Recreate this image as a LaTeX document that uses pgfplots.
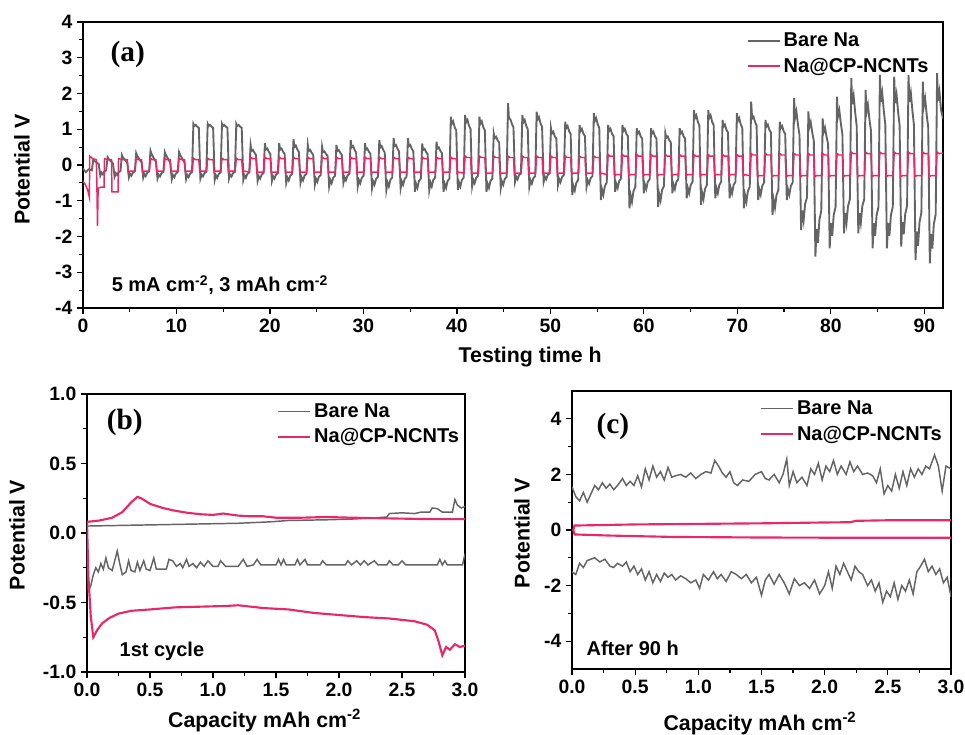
\documentclass[border=0pt]{standalone}
\usepackage{fontspec}
\setmainfont{Liberation Sans}
\newfontfamily\panelfont{Liberation Serif}
\usepackage{pgfplots}
\pgfplotsset{compat=1.18}

\definecolor{bare}{RGB}{100,100,100}
\definecolor{cnt}{RGB}{233,40,108}

\pgfplotsset{
  panel/.style={
    scale only axis,
    axis line style={line width=1.1pt},
    every tick/.style={black, line width=0.9pt},
    tick align=outside, tick pos=left,
    major tick length=4.5pt, minor tick length=2.7pt,
    tick label style={font=\fontsize{14.5}{16}\selectfont\bfseries},
    label style={font=\fontsize{16}{18}\selectfont\bfseries},
    /pgf/number format/assume math mode=true,
    legend style={draw=none, fill=none, inner sep=0pt, anchor=north west,
      font=\fontsize{15}{17}\selectfont\bfseries, row sep=3pt},
    legend cell align=left,
    legend image code/.code={\draw[##1] (0pt,0pt) -- (24pt,0pt);},
  },
}

\begin{document}
\begin{tikzpicture}
\useasboundingbox (0,0) rectangle (723.75pt,551.25pt);

% (a) galvanostatic cycling
\begin{axis}[panel,
    at={(62.25pt,320.25pt)}, anchor=south west,
    width=645pt, height=214.5pt,
    xmin=0, xmax=92, ymin=-4, ymax=4,
    xtick={0,10,...,90}, ytick={-4,-3,...,4},
    minor x tick num=1, minor y tick num=1,
    xlabel={Testing time h}, ylabel={Potential V},
    xlabel style={at={(axis description cs:0.52,-0.189)}, anchor=base},
    ylabel style={at={(axis description cs:-0.071,0.483)}, anchor=center},
    legend style={at={(axis description cs:0.772,0.972)}},
]
\addplot[bare, line width=1.4pt] coordinates {
(0,-0.10)(0.3,-0.20)(0.6,-0.12)(0.95,-0.15)
(1.10,0.15)(1.20,0.12)(1.35,0.09)(1.52,0.06)(1.68,0.03)(1.85,-0.30)(1.98,-0.21)(2.12,-0.26)(2.28,-0.18)(2.48,-0.15)
(2.63,0.22)(2.73,0.18)(2.88,0.13)(3.05,0.09)(3.21,0.04)(3.38,-0.33)(3.51,-0.23)(3.65,-0.28)(3.81,-0.20)(4.01,-0.17)
(4.16,0.28)(4.26,0.22)(4.41,0.17)(4.58,0.11)(4.74,0.06)(4.91,-0.35)(5.04,-0.25)(5.18,-0.30)(5.34,-0.21)(5.54,-0.18)
(5.69,0.33)(5.79,0.26)(5.94,0.20)(6.11,0.13)(6.27,0.07)(6.44,-0.36)(6.57,-0.25)(6.71,-0.31)(6.87,-0.22)(7.07,-0.18)
(7.22,0.40)(7.32,0.32)(7.47,0.24)(7.64,0.16)(7.80,0.08)(7.97,-0.38)(8.10,-0.27)(8.24,-0.32)(8.40,-0.23)(8.60,-0.19)
(8.75,0.36)(8.85,0.29)(9.00,0.22)(9.17,0.14)(9.33,0.07)(9.50,-0.40)(9.63,-0.28)(9.77,-0.34)(9.93,-0.24)(10.13,-0.20)
(10.28,0.36)(10.38,0.29)(10.53,0.22)(10.70,0.14)(10.86,0.07)(11.03,-0.40)(11.16,-0.28)(11.30,-0.34)(11.46,-0.24)(11.66,-0.20)
(11.81,1.15)(11.91,1.09)(12.06,1.12)(12.23,1.07)(12.39,1.04)(12.56,-0.38)(12.69,-0.27)(12.83,-0.32)(12.99,-0.23)(13.19,-0.19)
(13.34,1.15)(13.44,1.09)(13.59,1.12)(13.76,1.07)(13.92,1.04)(14.09,-0.42)(14.22,-0.29)(14.36,-0.36)(14.52,-0.25)(14.72,-0.21)
(14.87,1.15)(14.97,1.09)(15.12,1.12)(15.29,1.07)(15.45,1.04)(15.62,-0.38)(15.75,-0.27)(15.89,-0.32)(16.05,-0.23)(16.25,-0.19)
(16.40,1.15)(16.50,1.09)(16.65,1.12)(16.82,1.07)(16.98,1.04)(17.15,-0.42)(17.28,-0.29)(17.42,-0.36)(17.58,-0.25)(17.78,-0.21)
(17.93,0.56)(18.03,0.39)(18.18,0.42)(18.35,0.34)(18.51,0.28)(18.68,-0.45)(18.81,-0.32)(18.95,-0.38)(19.11,-0.27)(19.31,-0.23)
(19.46,0.61)(19.56,0.43)(19.71,0.46)(19.88,0.37)(20.04,0.31)(20.21,-0.45)(20.34,-0.32)(20.48,-0.38)(20.64,-0.27)(20.84,-0.23)
(20.99,0.61)(21.09,0.43)(21.24,0.46)(21.41,0.37)(21.57,0.31)(21.74,-0.50)(21.87,-0.35)(22.01,-0.43)(22.17,-0.30)(22.37,-0.25)
(22.52,0.72)(22.62,0.50)(22.77,0.54)(22.94,0.43)(23.10,0.36)(23.27,-0.50)(23.40,-0.35)(23.54,-0.43)(23.70,-0.30)(23.90,-0.25)
(24.05,0.56)(24.15,0.39)(24.30,0.42)(24.47,0.34)(24.63,0.28)(24.80,-0.55)(24.93,-0.39)(25.07,-0.47)(25.23,-0.33)(25.43,-0.28)
(25.58,0.51)(25.68,0.36)(25.83,0.38)(26.00,0.31)(26.16,0.26)(26.33,-0.60)(26.46,-0.42)(26.60,-0.51)(26.76,-0.36)(26.96,-0.30)
(27.11,0.56)(27.21,0.39)(27.36,0.42)(27.53,0.34)(27.69,0.28)(27.86,-0.50)(27.99,-0.35)(28.13,-0.43)(28.29,-0.30)(28.49,-0.25)
(28.64,0.70)(28.74,0.49)(28.89,0.53)(29.06,0.42)(29.22,0.35)(29.39,-0.60)(29.52,-0.42)(29.66,-0.51)(29.82,-0.36)(30.02,-0.30)
(30.17,0.61)(30.27,0.43)(30.42,0.46)(30.59,0.37)(30.75,0.31)(30.92,-0.65)(31.05,-0.46)(31.19,-0.55)(31.35,-0.39)(31.55,-0.33)
(31.70,0.70)(31.80,0.49)(31.95,0.53)(32.12,0.42)(32.28,0.35)(32.45,-0.70)(32.58,-0.49)(32.72,-0.60)(32.88,-0.42)(33.08,-0.35)
(33.23,0.75)(33.33,0.53)(33.48,0.56)(33.65,0.45)(33.81,0.38)(33.98,-0.65)(34.11,-0.46)(34.25,-0.55)(34.41,-0.39)(34.61,-0.33)
(34.76,0.75)(34.86,0.53)(35.01,0.56)(35.18,0.45)(35.34,0.38)(35.51,-0.75)(35.64,-0.53)(35.78,-0.64)(35.94,-0.45)(36.14,-0.38)
(36.29,0.60)(36.39,0.42)(36.54,0.45)(36.71,0.36)(36.87,0.30)(37.04,-0.70)(37.17,-0.49)(37.31,-0.60)(37.47,-0.42)(37.67,-0.35)
(37.82,0.65)(37.92,0.46)(38.07,0.49)(38.24,0.39)(38.40,0.33)(38.57,-0.75)(38.70,-0.53)(38.84,-0.64)(39.00,-0.45)(39.20,-0.38)
(39.35,1.35)(39.45,1.15)(39.60,1.22)(39.77,1.05)(39.93,0.97)(40.10,-0.70)(40.23,-0.49)(40.37,-0.60)(40.53,-0.42)(40.73,-0.35)
(40.88,1.40)(40.98,1.19)(41.13,1.26)(41.30,1.09)(41.46,1.01)(41.63,-0.60)(41.76,-0.42)(41.90,-0.51)(42.06,-0.36)(42.26,-0.30)
(42.41,1.35)(42.51,1.15)(42.66,1.22)(42.83,1.05)(42.99,0.97)(43.16,-0.75)(43.29,-0.53)(43.43,-0.64)(43.59,-0.45)(43.79,-0.38)
(43.94,0.88)(44.04,0.75)(44.19,0.79)(44.36,0.69)(44.52,0.63)(44.69,-0.65)(44.82,-0.46)(44.96,-0.55)(45.12,-0.39)(45.32,-0.33)
(45.47,1.73)(45.57,1.30)(45.72,1.28)(45.89,1.15)(46.05,1.05)(46.22,-0.47)(46.35,-0.33)(46.49,-0.40)(46.65,-0.28)(46.85,-0.24)
(47.00,1.40)(47.10,1.19)(47.25,1.26)(47.42,1.09)(47.58,1.01)(47.75,-0.61)(47.88,-0.43)(48.02,-0.52)(48.18,-0.37)(48.38,-0.31)
(48.53,1.49)(48.63,1.27)(48.78,1.34)(48.95,1.16)(49.11,1.07)(49.28,-0.47)(49.41,-0.33)(49.55,-0.40)(49.71,-0.28)(49.91,-0.24)
(50.06,1.03)(50.16,0.88)(50.31,0.93)(50.48,0.80)(50.64,0.74)(50.81,-0.56)(50.94,-0.39)(51.08,-0.48)(51.24,-0.34)(51.44,-0.28)
(51.59,1.21)(51.69,1.03)(51.84,1.09)(52.01,0.94)(52.17,0.87)(52.34,-0.84)(52.47,-0.59)(52.61,-0.71)(52.77,-0.50)(52.97,-0.42)
(53.12,1.12)(53.22,0.95)(53.37,1.01)(53.54,0.87)(53.70,0.81)(53.87,-0.61)(54.00,-0.43)(54.14,-0.52)(54.30,-0.37)(54.50,-0.31)
(54.65,1.45)(54.75,1.23)(54.90,1.31)(55.07,1.13)(55.23,1.04)(55.40,-0.98)(55.53,-0.69)(55.67,-0.83)(55.83,-0.59)(56.03,-0.49)
(56.18,1.12)(56.28,0.95)(56.43,1.01)(56.60,0.87)(56.76,0.81)(56.93,-0.75)(57.06,-0.53)(57.20,-0.64)(57.36,-0.45)(57.56,-0.38)
(57.71,1.12)(57.81,0.95)(57.96,1.01)(58.13,0.87)(58.29,0.81)(58.46,-1.21)(58.59,-0.85)(58.73,-1.03)(58.89,-0.73)(59.09,-0.61)
(59.24,1.03)(59.34,0.88)(59.49,0.93)(59.66,0.80)(59.82,0.74)(59.99,-0.79)(60.12,-0.55)(60.26,-0.67)(60.42,-0.47)(60.62,-0.40)
(60.77,1.03)(60.87,0.88)(61.02,0.93)(61.19,0.80)(61.35,0.74)(61.52,-1.17)(61.65,-0.82)(61.79,-0.99)(61.95,-0.70)(62.15,-0.59)
(62.30,0.89)(62.40,0.76)(62.55,0.80)(62.72,0.69)(62.88,0.64)(63.05,-0.79)(63.18,-0.55)(63.32,-0.67)(63.48,-0.47)(63.68,-0.40)
(63.83,1.03)(63.93,0.88)(64.08,0.93)(64.25,0.80)(64.41,0.74)(64.58,-0.93)(64.71,-0.65)(64.85,-0.79)(65.01,-0.56)(65.21,-0.47)
(65.36,1.54)(65.46,1.31)(65.61,1.39)(65.78,1.20)(65.94,1.11)(66.11,-1.12)(66.24,-0.78)(66.38,-0.95)(66.54,-0.67)(66.74,-0.56)
(66.89,1.54)(66.99,1.31)(67.14,1.39)(67.31,1.20)(67.47,1.11)(67.64,-0.93)(67.77,-0.65)(67.91,-0.79)(68.07,-0.56)(68.27,-0.47)
(68.42,1.26)(68.52,1.07)(68.67,1.13)(68.84,0.98)(69.00,0.91)(69.17,-0.93)(69.30,-0.65)(69.44,-0.79)(69.60,-0.56)(69.80,-0.47)
(69.95,1.45)(70.05,1.23)(70.20,1.31)(70.37,1.13)(70.53,1.04)(70.70,-1.21)(70.83,-0.85)(70.97,-1.03)(71.13,-0.73)(71.33,-0.61)
(71.48,1.77)(71.58,1.30)(71.73,1.35)(71.90,1.20)(72.06,1.10)(72.23,-0.98)(72.36,-0.69)(72.50,-0.83)(72.66,-0.59)(72.86,-0.49)
(73.01,1.26)(73.11,1.07)(73.26,1.13)(73.43,0.98)(73.59,0.91)(73.76,-1.40)(73.89,-0.98)(74.03,-1.19)(74.19,-0.84)(74.39,-0.70)
(74.54,1.21)(74.64,1.03)(74.79,1.09)(74.96,0.94)(75.12,0.87)(75.29,-0.98)(75.42,-0.69)(75.56,-0.83)(75.72,-0.59)(75.92,-0.49)
(76.07,1.87)(76.17,1.31)(76.32,1.50)(76.49,1.12)(76.65,0.84)(76.82,-1.82)(76.95,-1.27)(77.09,-1.55)(77.25,-1.09)(77.45,-0.91)
(77.60,1.50)(77.70,1.05)(77.85,1.20)(78.02,0.90)(78.18,0.68)(78.35,-2.56)(78.48,-1.79)(78.62,-2.18)(78.78,-1.54)(78.98,-1.28)
(79.13,1.30)(79.23,0.91)(79.38,1.04)(79.55,0.78)(79.71,0.59)(79.88,-2.33)(80.01,-1.63)(80.15,-1.98)(80.31,-1.40)(80.51,-1.17)
(80.66,1.91)(80.76,1.34)(80.91,1.53)(81.08,1.15)(81.24,0.86)(81.41,-1.91)(81.54,-1.34)(81.68,-1.62)(81.84,-1.15)(82.04,-0.96)
(82.19,2.43)(82.29,1.70)(82.44,1.94)(82.61,1.46)(82.77,1.09)(82.94,-1.91)(83.07,-1.34)(83.21,-1.62)(83.37,-1.15)(83.57,-0.96)
(83.72,2.10)(83.82,1.47)(83.97,1.68)(84.14,1.26)(84.30,0.95)(84.47,-2.33)(84.60,-1.63)(84.74,-1.98)(84.90,-1.40)(85.10,-1.17)
(85.25,2.52)(85.35,1.76)(85.50,2.02)(85.67,1.51)(85.83,1.13)(86.00,-2.33)(86.13,-1.63)(86.27,-1.98)(86.43,-1.40)(86.63,-1.17)
(86.78,2.47)(86.88,1.73)(87.03,1.98)(87.20,1.48)(87.36,1.11)(87.53,-2.28)(87.66,-1.60)(87.80,-1.94)(87.96,-1.37)(88.16,-1.14)
(88.31,2.52)(88.41,1.76)(88.56,2.02)(88.73,1.51)(88.89,1.13)(89.06,-2.66)(89.19,-1.86)(89.33,-2.26)(89.49,-1.60)(89.69,-1.33)
(89.84,2.33)(89.94,1.63)(90.09,1.86)(90.26,1.40)(90.42,1.05)(90.59,-2.75)(90.72,-1.93)(90.86,-2.34)(91.02,-1.65)(91.22,-1.38)
(91.37,2.57)(91.47,1.80)(91.62,2.06)(91.79,1.54)(92.00,1.30)
};
\addlegendentry{Bare Na}
\addplot[cnt, line width=1.1pt] coordinates {
(0,-0.45)(0.25,-0.55)(0.5,-0.70)(0.68,-0.90)(0.72,0.25)(0.85,0.22)(1.0,0.18)(1.42,0.15)(1.47,-0.30)(1.55,-1.70)(1.62,-0.65)(1.9,-0.62)(2.25,-0.62)(2.3,0.18)(2.6,0.15)(3.05,0.15)(3.1,-0.75)(3.75,-0.75)(3.8,0.18)(4.16,0.15)
(4.74,0.15)(4.84,-0.20)(5.01,-0.17)
(5.57,-0.17)(5.69,0.19)(5.89,0.15)(6.27,0.15)(6.37,-0.20)(6.54,-0.17)
(7.10,-0.17)(7.22,0.19)(7.42,0.15)(7.80,0.15)(7.90,-0.20)(8.07,-0.17)
(8.63,-0.17)(8.75,0.19)(8.95,0.15)(9.33,0.15)(9.43,-0.20)(9.60,-0.17)
(10.16,-0.17)(10.28,0.19)(10.48,0.15)(10.86,0.15)(10.96,-0.20)(11.13,-0.17)
(11.69,-0.17)(11.81,0.19)(12.01,0.15)(12.39,0.15)(12.49,-0.20)(12.66,-0.17)
(13.22,-0.17)(13.34,0.19)(13.54,0.15)(13.92,0.15)(14.02,-0.20)(14.19,-0.17)
(14.75,-0.17)(14.87,0.19)(15.07,0.15)(15.45,0.15)(15.55,-0.20)(15.72,-0.17)
(16.28,-0.17)(16.40,0.19)(16.60,0.15)(16.98,0.15)(17.08,-0.20)(17.25,-0.17)
(17.81,-0.20)(17.93,0.22)(18.13,0.18)(18.51,0.18)(18.61,-0.23)(18.78,-0.20)
(19.34,-0.20)(19.46,0.22)(19.66,0.18)(20.04,0.18)(20.14,-0.23)(20.31,-0.20)
(20.87,-0.20)(20.99,0.22)(21.19,0.18)(21.57,0.18)(21.67,-0.23)(21.84,-0.20)
(22.40,-0.20)(22.52,0.22)(22.72,0.18)(23.10,0.18)(23.20,-0.23)(23.37,-0.20)
(23.93,-0.20)(24.05,0.22)(24.25,0.18)(24.63,0.18)(24.73,-0.23)(24.90,-0.20)
(25.46,-0.20)(25.58,0.22)(25.78,0.18)(26.16,0.18)(26.26,-0.23)(26.43,-0.20)
(26.99,-0.20)(27.11,0.22)(27.31,0.18)(27.69,0.18)(27.79,-0.23)(27.96,-0.20)
(28.52,-0.20)(28.64,0.22)(28.84,0.18)(29.22,0.18)(29.32,-0.23)(29.49,-0.20)
(30.05,-0.20)(30.17,0.22)(30.37,0.18)(30.75,0.18)(30.85,-0.23)(31.02,-0.20)
(31.58,-0.20)(31.70,0.22)(31.90,0.18)(32.28,0.18)(32.38,-0.23)(32.55,-0.20)
(33.11,-0.20)(33.23,0.22)(33.43,0.18)(33.81,0.18)(33.91,-0.23)(34.08,-0.20)
(34.64,-0.20)(34.76,0.22)(34.96,0.18)(35.34,0.18)(35.44,-0.23)(35.61,-0.20)
(36.17,-0.20)(36.29,0.22)(36.49,0.18)(36.87,0.18)(36.97,-0.23)(37.14,-0.20)
(37.70,-0.20)(37.82,0.22)(38.02,0.18)(38.40,0.18)(38.50,-0.23)(38.67,-0.20)
(39.23,-0.20)(39.35,0.22)(39.55,0.18)(39.93,0.18)(40.03,-0.23)(40.20,-0.20)
(40.76,-0.23)(40.88,0.25)(41.08,0.21)(41.46,0.21)(41.56,-0.26)(41.73,-0.23)
(42.29,-0.23)(42.41,0.25)(42.61,0.21)(42.99,0.21)(43.09,-0.26)(43.26,-0.23)
(43.82,-0.23)(43.94,0.25)(44.14,0.21)(44.52,0.21)(44.62,-0.26)(44.79,-0.23)
(45.35,-0.23)(45.47,0.25)(45.67,0.21)(46.05,0.21)(46.15,-0.26)(46.32,-0.23)
(46.88,-0.23)(47.00,0.25)(47.20,0.21)(47.58,0.21)(47.68,-0.26)(47.85,-0.23)
(48.41,-0.23)(48.53,0.25)(48.73,0.21)(49.11,0.21)(49.21,-0.26)(49.38,-0.23)
(49.94,-0.23)(50.06,0.25)(50.26,0.21)(50.64,0.21)(50.74,-0.26)(50.91,-0.23)
(51.47,-0.23)(51.59,0.25)(51.79,0.21)(52.17,0.21)(52.27,-0.26)(52.44,-0.23)
(53.00,-0.23)(53.12,0.25)(53.32,0.21)(53.70,0.21)(53.80,-0.26)(53.97,-0.23)
(54.53,-0.23)(54.65,0.25)(54.85,0.21)(55.23,0.21)(55.33,-0.26)(55.50,-0.23)
(56.06,-0.27)(56.18,0.29)(56.38,0.25)(56.76,0.25)(56.86,-0.30)(57.03,-0.27)
(57.59,-0.27)(57.71,0.29)(57.91,0.25)(58.29,0.25)(58.39,-0.30)(58.56,-0.27)
(59.12,-0.27)(59.24,0.29)(59.44,0.25)(59.82,0.25)(59.92,-0.30)(60.09,-0.27)
(60.65,-0.27)(60.77,0.29)(60.97,0.25)(61.35,0.25)(61.45,-0.30)(61.62,-0.27)
(62.18,-0.27)(62.30,0.29)(62.50,0.25)(62.88,0.25)(62.98,-0.30)(63.15,-0.27)
(63.71,-0.27)(63.83,0.29)(64.03,0.25)(64.41,0.25)(64.51,-0.30)(64.68,-0.27)
(65.24,-0.27)(65.36,0.29)(65.56,0.25)(65.94,0.25)(66.04,-0.30)(66.21,-0.27)
(66.77,-0.27)(66.89,0.29)(67.09,0.25)(67.47,0.25)(67.57,-0.30)(67.74,-0.27)
(68.30,-0.27)(68.42,0.29)(68.62,0.25)(69.00,0.25)(69.10,-0.30)(69.27,-0.27)
(69.83,-0.27)(69.95,0.29)(70.15,0.25)(70.53,0.25)(70.63,-0.30)(70.80,-0.27)
(71.36,-0.30)(71.48,0.32)(71.68,0.28)(72.06,0.28)(72.16,-0.33)(72.33,-0.30)
(72.89,-0.30)(73.01,0.32)(73.21,0.28)(73.59,0.28)(73.69,-0.33)(73.86,-0.30)
(74.42,-0.30)(74.54,0.32)(74.74,0.28)(75.12,0.28)(75.22,-0.33)(75.39,-0.30)
(75.95,-0.30)(76.07,0.32)(76.27,0.28)(76.65,0.28)(76.75,-0.33)(76.92,-0.30)
(77.48,-0.30)(77.60,0.32)(77.80,0.28)(78.18,0.28)(78.28,-0.33)(78.45,-0.30)
(79.01,-0.30)(79.13,0.32)(79.33,0.28)(79.71,0.28)(79.81,-0.33)(79.98,-0.30)
(80.54,-0.30)(80.66,0.32)(80.86,0.28)(81.24,0.28)(81.34,-0.33)(81.51,-0.30)
(82.07,-0.30)(82.19,0.36)(82.39,0.32)(82.77,0.32)(82.87,-0.33)(83.04,-0.30)
(83.60,-0.30)(83.72,0.36)(83.92,0.32)(84.30,0.32)(84.40,-0.33)(84.57,-0.30)
(85.13,-0.30)(85.25,0.36)(85.45,0.32)(85.83,0.32)(85.93,-0.33)(86.10,-0.30)
(86.66,-0.30)(86.78,0.36)(86.98,0.32)(87.36,0.32)(87.46,-0.33)(87.63,-0.30)
(88.19,-0.30)(88.31,0.36)(88.51,0.32)(88.89,0.32)(88.99,-0.33)(89.16,-0.30)
(89.72,-0.30)(89.84,0.36)(90.04,0.32)(90.42,0.32)(90.52,-0.33)(90.69,-0.30)
(91.25,-0.30)(91.37,0.36)(91.57,0.32)(92.00,0.33)
};
\addlegendentry{Na@CP-NCNTs}
\node[font=\panelfont\bfseries\fontsize{22}{24}\selectfont] at (axis description cs:0.052,0.885) {(a)};
\node[anchor=base west, font=\fontsize{15}{17}\selectfont\bfseries] at (axis description cs:0.028,0.056) {5 mA cm\textsuperscript{-2}, 3 mAh cm\textsuperscript{-2}};
\end{axis}

% (b) first cycle
\begin{axis}[panel,
    at={(65.25pt,47.25pt)}, anchor=south west,
    width=283.5pt, height=208.5pt,
    xmin=0, xmax=3, ymin=-1, ymax=1,
    xtick={0,0.5,...,3}, ytick={-1,-0.5,0,0.5,1},
    minor x tick num=1, minor y tick num=1,
    xticklabel style={/pgf/number format/.cd, fixed, fixed zerofill, precision=1},
    yticklabel style={/pgf/number format/.cd, fixed, fixed zerofill, precision=1},
    xlabel={Capacity mAh cm\textsuperscript{-2}}, ylabel={Potential V},
    xlabel style={at={(axis description cs:0.47,-0.201)}, anchor=base},
    ylabel style={at={(axis description cs:-0.185,0.493)}, anchor=center},
    legend style={at={(axis description cs:0.503,0.976)}},
]
\addplot[bare, line width=1.1pt] coordinates {
(0,0.05)(0.3,0.055)(0.6,0.06)(0.9,0.065)(1.2,0.07)(1.45,0.08)(1.6,0.09)(1.9,0.095)(2.1,0.10)(2.3,0.11)(2.38,0.115)(2.40,0.14)(2.5,0.145)(2.6,0.14)(2.65,0.15)(2.72,0.15)(2.74,0.18)(2.78,0.175)(2.82,0.15)(2.9,0.15)(2.92,0.24)(2.94,0.20)(2.97,0.18)(3.0,0.19)
};
\addlegendentry{Bare Na}
\addplot[cnt, line width=1.6pt] coordinates {
(0,0.08)(0.05,0.085)(0.1,0.09)(0.2,0.11)(0.28,0.15)(0.35,0.22)(0.40,0.26)(0.43,0.25)(0.5,0.21)(0.6,0.18)(0.7,0.16)(0.8,0.145)(0.9,0.135)(1.0,0.13)(1.08,0.14)(1.12,0.135)(1.2,0.125)(1.3,0.12)(1.4,0.12)(1.5,0.11)(1.7,0.11)(1.9,0.115)(2.1,0.11)(2.4,0.105)(2.7,0.10)(3.0,0.10)
};
\addlegendentry{Na@CP-NCNTs}
\addplot[bare, line width=1.1pt, forget plot] coordinates {
(0,0.03)(0.01,-0.42)(0.03,-0.38)(0.05,-0.30)(0.07,-0.25)(0.09,-0.28)(0.11,-0.22)(0.13,-0.26)(0.15,-0.18)(0.17,-0.25)(0.20,-0.27)(0.22,-0.20)(0.24,-0.13)(0.26,-0.22)(0.28,-0.30)(0.31,-0.28)(0.33,-0.20)(0.35,-0.27)(0.38,-0.28)(0.40,-0.21)(0.42,-0.27)(0.45,-0.20)(0.47,-0.26)(0.50,-0.27)(0.53,-0.18)(0.55,-0.26)(0.60,-0.26)(0.63,-0.26)(0.65,-0.19)(0.68,-0.20)(0.71,-0.24)(0.74,-0.22)(0.76,-0.25)(0.79,-0.19)(0.81,-0.24)(0.84,-0.22)(0.87,-0.25)(0.90,-0.21)(0.93,-0.24)(0.96,-0.20)(1.00,-0.24)(1.04,-0.24)(1.06,-0.20)(1.10,-0.24)(1.20,-0.24)(1.24,-0.19)(1.27,-0.24)(1.32,-0.23)(1.35,-0.19)(1.38,-0.23)(1.50,-0.23)(1.52,-0.19)(1.54,-0.23)(1.56,-0.19)(1.58,-0.23)(1.65,-0.23)(1.67,-0.19)(1.69,-0.23)(1.73,-0.19)(1.75,-0.23)(1.85,-0.23)(1.87,-0.20)(1.90,-0.23)(2.05,-0.23)(2.07,-0.20)(2.10,-0.23)(2.14,-0.20)(2.17,-0.23)(2.20,-0.20)(2.23,-0.23)(2.28,-0.20)(2.31,-0.23)(2.38,-0.23)(2.40,-0.20)(2.43,-0.23)(2.47,-0.23)(2.50,-0.20)(2.53,-0.23)(2.78,-0.23)(2.80,-0.19)(2.82,-0.23)(2.84,-0.20)(2.86,-0.23)(2.98,-0.23)(3.0,-0.15)
};
\addplot[cnt, line width=1.6pt, forget plot] coordinates {
(0,0.08)(0.005,-0.10)(0.01,-0.30)(0.03,-0.60)(0.05,-0.75)(0.08,-0.70)(0.12,-0.65)(0.18,-0.61)(0.25,-0.58)(0.35,-0.56)(0.5,-0.55)(0.7,-0.535)(0.9,-0.53)(1.1,-0.525)(1.2,-0.52)(1.4,-0.54)(1.6,-0.55)(1.8,-0.575)(2.0,-0.59)(2.2,-0.605)(2.4,-0.615)(2.6,-0.635)(2.7,-0.66)(2.76,-0.70)(2.79,-0.78)(2.82,-0.88)(2.85,-0.82)(2.88,-0.84)(2.92,-0.80)(2.96,-0.82)(3.0,-0.81)
};
\node[font=\panelfont\bfseries\fontsize{22}{24}\selectfont] at (axis description cs:0.10,0.899) {(b)};
\node[anchor=base west, font=\fontsize{15}{17}\selectfont\bfseries] at (axis description cs:0.074,0.054) {1st cycle};
\end{axis}

% (c) after 90 h
\begin{axis}[panel,
    at={(429pt,49.5pt)}, anchor=south west,
    width=284.25pt, height=208.5pt,
    xmin=0, xmax=3, ymin=-5, ymax=5,
    xtick={0,0.5,...,3}, ytick={-4,-2,0,2,4},
    minor x tick num=1, minor y tick num=1,
    xticklabel style={/pgf/number format/.cd, fixed, fixed zerofill, precision=1},
    xlabel={Capacity mAh cm\textsuperscript{-2}}, ylabel={Potential V},
    xlabel style={at={(axis description cs:0.496,-0.222)}, anchor=base},
    ylabel style={at={(axis description cs:-0.132,0.489)}, anchor=center},
    legend style={at={(axis description cs:0.496,0.975)}},
]
\addplot[bare, line width=1.1pt] coordinates {
(0.00,1.55)(0.03,1.20)(0.06,1.05)(0.09,1.35)(0.12,1.00)(0.15,1.30)(0.18,1.60)(0.21,1.45)(0.24,1.70)(0.27,1.50)(0.30,1.65)(0.33,1.45)(0.36,1.60)(0.40,1.85)(0.43,1.60)(0.46,1.75)(0.49,1.60)(0.52,1.95)(0.55,1.55)(0.58,2.20)(0.61,1.80)(0.64,2.30)(0.67,1.90)(0.70,2.10)(0.73,1.80)(0.76,2.25)(0.79,1.90)(0.82,1.95)(0.86,2.00)(0.90,1.90)(0.94,2.05)(0.98,1.85)(1.02,2.00)(1.06,2.10)(1.10,2.05)(1.13,2.50)(1.16,2.30)(1.19,2.05)(1.22,1.90)(1.25,2.10)(1.28,1.70)(1.31,1.60)(1.35,1.80)(1.40,1.75)(1.45,2.00)(1.50,2.10)(1.53,1.85)(1.56,1.80)(1.60,2.00)(1.64,1.70)(1.67,2.00)(1.70,2.55)(1.72,1.60)(1.75,2.10)(1.78,1.70)(1.82,1.90)(1.86,1.60)(1.89,2.20)(1.92,2.00)(1.95,2.40)(1.98,1.80)(2.01,2.30)(2.04,2.10)(2.07,2.50)(2.10,2.00)(2.13,2.30)(2.17,2.00)(2.20,2.45)(2.23,2.10)(2.26,2.30)(2.30,2.00)(2.34,2.05)(2.38,1.95)(2.41,1.70)(2.44,2.20)(2.47,1.30)(2.50,1.60)(2.53,1.40)(2.56,2.00)(2.59,1.50)(2.62,2.10)(2.65,1.60)(2.68,2.20)(2.71,1.90)(2.74,2.20)(2.77,2.00)(2.80,2.30)(2.83,2.20)(2.87,2.70)(2.90,2.30)(2.93,1.40)(2.96,2.30)(3.00,2.20)
};
\addlegendentry{Bare Na}
\addplot[cnt, line width=1.6pt] coordinates {
(3.0,-0.28)(2.2,-0.28)(1.5,-0.27)(0.8,-0.25)(0.3,-0.20)(0.02,-0.16)(0.01,0.0)(0.02,0.16)(0.5,0.20)(1.0,0.22)(1.5,0.24)(2.0,0.27)(2.2,0.28)(2.25,0.33)(2.5,0.35)(3.0,0.35)
};
\addlegendentry{Na@CP-NCNTs}
\addplot[bare, line width=1.1pt, forget plot] coordinates {
(0.00,-1.50)(0.03,-1.60)(0.06,-1.20)(0.09,-1.35)(0.12,-1.10)(0.15,-1.05)(0.18,-1.00)(0.22,-1.15)(0.26,-1.05)(0.30,-1.30)(0.33,-1.35)(0.36,-1.20)(0.40,-1.30)(0.43,-1.15)(0.46,-1.50)(0.49,-1.30)(0.52,-1.60)(0.55,-1.40)(0.58,-1.80)(0.61,-1.50)(0.64,-1.90)(0.67,-1.60)(0.70,-1.85)(0.73,-1.55)(0.76,-1.70)(0.79,-1.60)(0.82,-1.80)(0.86,-1.65)(0.90,-1.75)(0.94,-1.90)(0.98,-1.80)(1.01,-2.10)(1.04,-1.60)(1.08,-1.80)(1.12,-1.50)(1.15,-1.75)(1.18,-1.60)(1.22,-1.85)(1.26,-1.50)(1.30,-1.60)(1.34,-1.75)(1.38,-1.60)(1.42,-1.90)(1.46,-1.70)(1.50,-2.35)(1.53,-1.80)(1.56,-1.60)(1.60,-1.95)(1.64,-1.60)(1.68,-1.90)(1.72,-2.30)(1.76,-1.75)(1.80,-2.00)(1.84,-1.90)(1.88,-2.10)(1.92,-1.80)(1.96,-2.30)(2.00,-2.00)(2.03,-1.50)(2.06,-2.10)(2.09,-1.30)(2.12,-1.60)(2.15,-1.20)(2.18,-1.50)(2.21,-1.80)(2.24,-1.30)(2.27,-1.50)(2.30,-1.60)(2.34,-2.00)(2.37,-1.80)(2.40,-2.20)(2.43,-1.90)(2.46,-2.60)(2.49,-2.20)(2.52,-2.40)(2.55,-1.90)(2.58,-2.50)(2.61,-2.00)(2.64,-2.20)(2.67,-1.80)(2.70,-2.30)(2.73,-1.50)(2.76,-1.30)(2.79,-1.05)(2.82,-1.50)(2.85,-1.30)(2.88,-1.60)(2.91,-1.40)(2.94,-1.90)(2.97,-1.70)(3.00,-2.40)
};
\node[font=\panelfont\bfseries\fontsize{22}{24}\selectfont] at (axis description cs:0.108,0.874) {(c)};
\node[anchor=base west, font=\fontsize{15}{17}\selectfont\bfseries] at (axis description cs:0.026,0.05) {After 90 h};
\end{axis}
\end{tikzpicture}
\end{document}
